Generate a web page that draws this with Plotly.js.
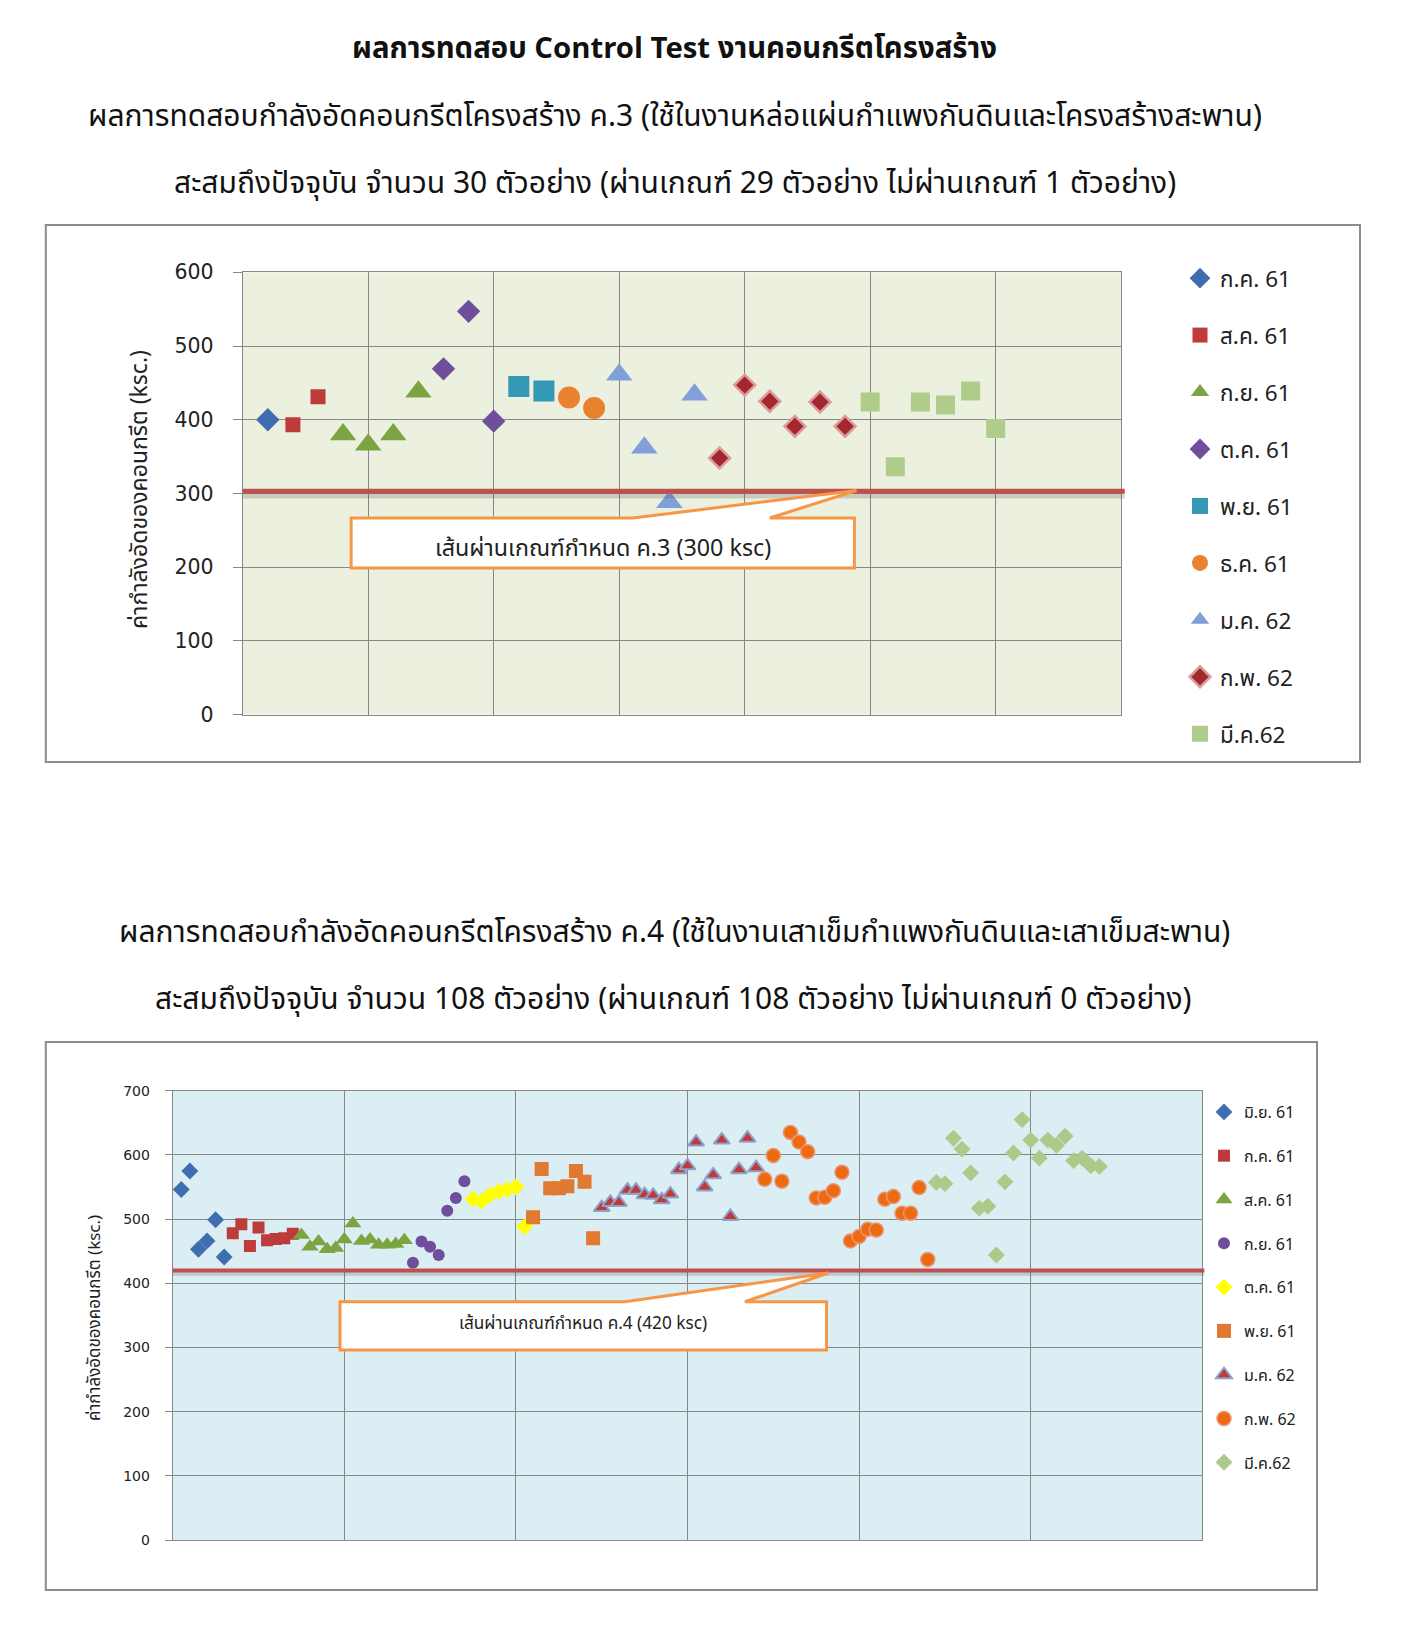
<!DOCTYPE html>
<html>
<head>
<meta charset="utf-8">
<script src="https://cdn.plot.ly/plotly-3.0.1.min.js"></script>
<style>
html,body{margin:0;padding:0;background:#fff;overflow:hidden;}
#chart{width:1407px;height:1637px;}
</style>
</head>
<body>
<div id="chart"></div>
<script>
// ---------- Chart 1 (ค.3) ----------
const topCats = ['ก.ค. 61','ส.ค. 61','ก.ย. 61','ต.ค. 61','พ.ย. 61','ธ.ค. 61','ม.ค. 62','ก.พ. 62','มี.ค.62'];
const top_jul61 = [400];
const top_aug61 = [393, 431];
const top_sep61 = [380, 366, 380, 438];
const top_oct61 = [469, 547, 398];
const top_nov61 = [445, 439];
const top_dec61 = [430, 416];
const top_jan62 = [461, 362, 288, 434];
const top_feb62 = [348, 447, 425, 391, 424, 391];
const top_mar62 = [424, 336, 424, 420, 439, 388];
const topThreshold = 300;
const topYTicks = [0, 100, 200, 300, 400, 500, 600];

// ---------- Chart 2 (ค.4) ----------
const botCats = ['มิ.ย. 61','ก.ค. 61','ส.ค. 61','ก.ย. 61','ต.ค. 61','พ.ย. 61','ม.ค. 62','ก.พ. 62','มี.ค.62'];
const bot_jun61 = [546, 575, 453, 466, 499, 441];
const bot_jul61 = [478, 492, 458, 487, 467, 469, 470, 477];
const bot_aug61 = [475, 457, 465, 453, 455, 468, 493, 466, 468, 460, 460, 461, 467];
const bot_sep61 = [432, 465, 457, 444, 513, 533, 559];
const bot_oct61 = [531, 528, 538, 543, 546, 550, 488];
const bot_nov61 = [503, 578, 548, 548, 551, 575, 558, 470];
const bot_jan62 = [518, 526, 526, 545, 545, 538, 537, 530, 539, 577, 583, 620, 550, 569, 623, 504, 577, 626, 580];
const bot_feb62 = [562, 599, 559, 635, 620, 605, 533, 534, 544, 573, 466, 473, 484, 483, 531, 535, 509, 509, 549, 437];
const bot_mar62 = [557, 555, 626, 609, 572, 517, 520, 444, 558, 603, 655, 623, 595, 623, 615, 629, 591, 595, 583, 582];
const botThreshold = 420;
const botYTicks = [0, 100, 200, 300, 400, 500, 600, 700];

const W = 1407, H = 1637;
const px = v => v / W;
const py = v => 1 - v / H;
const FONT = "Tahoma, 'Noto Sans Thai', 'Noto Sans', 'DejaVu Sans', sans-serif";

const topSeries = [top_jul61, top_aug61, top_sep61, top_oct61, top_nov61, top_dec61, top_jan62, top_feb62, top_mar62];
const topStyles = [
  {symbol:'diamond', size:18, color:'#3F6EB0', line:{width:0}},
  {symbol:'square', size:15, color:'#BE3B3B', line:{width:0}},
  {symbol:'triangle-up', size:23, color:'#7BA541', line:{width:0}},
  {symbol:'diamond', size:18, color:'#6F4E9C', line:{width:0}},
  {symbol:'square', size:21, color:'#3399B5', line:{width:0}},
  {symbol:'circle', size:22, color:'#E8822E', line:{width:0}},
  {symbol:'triangle-up', size:23, color:'#819FD8', line:{width:0}},
  {symbol:'diamond', size:16, color:'#A3282D', line:{color:'#DC9A9C', width:2.5}},
  {symbol:'square', size:19, color:'#AFCC8A', line:{width:0}}
];

const botSeries = [bot_jun61, bot_jul61, bot_aug61, bot_sep61, bot_oct61, bot_nov61, bot_jan62, bot_feb62, bot_mar62];
const botStyles = [
  {symbol:'diamond', size:13, color:'#3F6EB0', line:{width:0}},
  {symbol:'square', size:12, color:'#BE3B3B', line:{width:0}},
  {symbol:'triangle-up', size:15, color:'#7BA541', line:{width:0}},
  {symbol:'circle', size:12, color:'#6F4E9C', line:{width:0}},
  {symbol:'diamond', size:13, color:'#FFFF00', line:{width:0}},
  {symbol:'square', size:14, color:'#E07A30', line:{width:0}},
  {symbol:'triangle-up', size:14, color:'#C0393B', line:{color:'#8DA2C9', width:2}},
  {symbol:'circle', size:14, color:'#EE6A10', line:{color:'#E8967A', width:1.5}},
  {symbol:'diamond', size:13, color:'#AFC98A', line:{width:0}}
];

const traces = [];
let n = 0;
topSeries.forEach((vals, i) => {
  const xs = vals.map(() => ++n);
  traces.push({
    type:'scatter', mode:'markers', x: xs, y: vals, name: topCats[i],
    xaxis:'x', yaxis:'y', legend:'legend', legendgroup:'t'+i,
    marker: topStyles[i], hoverinfo:'skip'
  });
});
n = 0;
botSeries.forEach((vals, i) => {
  const xs = vals.map(() => ++n);
  traces.push({
    type:'scatter', mode:'markers', x: xs, y: vals, name: botCats[i],
    xaxis:'x2', yaxis:'y2', legend:'legend2', legendgroup:'b'+i,
    marker: botStyles[i], hoverinfo:'skip'
  });
});

const GRID = '#878787';
const axBase = {
  showgrid:true, gridcolor:GRID, gridwidth:1, zeroline:false,
  showline:true, linecolor:GRID, linewidth:1, mirror:true, fixedrange:true
};

const layout = {
  width:W, height:H, margin:{l:0,r:0,t:0,b:0},
  paper_bgcolor:'#ffffff', showlegend:true,
  font:{family:FONT, color:'#222'},
  xaxis: Object.assign({}, axBase, {domain:[px(242.7), px(1121.2)], range:[0,35], dtick:5, tick0:0, showticklabels:false, ticks:''}),
  yaxis: Object.assign({}, axBase, {domain:[py(714.5), py(272.3)], range:[0,600], tickvals:topYTicks, ticks:'outside', ticklen:9, tickcolor:GRID,
         ticklabelstandoff:15, tickfont:{family:"'DejaVu Sans', sans-serif", size:20.5, color:'#222'}}),
  xaxis2: Object.assign({}, axBase, {domain:[px(172.7), px(1202.3)], range:[0,120], dtick:20, tick0:0, showticklabels:false, ticks:'', anchor:'y2'}),
  yaxis2: Object.assign({}, axBase, {domain:[py(1540), py(1090.7)], range:[0,700], tickvals:botYTicks, ticks:'outside', ticklen:7, tickcolor:GRID, anchor:'x2',
         ticklabelstandoff:12, tickfont:{family:"'DejaVu Sans', sans-serif", size:14, color:'#222'}}),
  plot_bgcolor:'#EBF1DE',
  legend:{x:px(1180), y:py(257), xanchor:'left', yanchor:'top', traceorder:'grouped', tracegroupgap:24.7,
          font:{family:FONT, size:22.5, color:'#222'}, bgcolor:'rgba(0,0,0,0)', itemclick:false, itemdoubleclick:false},
  legend2:{x:px(1204), y:py(1095), xanchor:'left', yanchor:'top', traceorder:'grouped', tracegroupgap:20,
          font:{family:FONT, size:16, color:'#222'}, bgcolor:'rgba(0,0,0,0)', itemclick:false, itemdoubleclick:false},
  shapes:[
    // frames
    {type:'rect', xref:'paper', yref:'paper', x0:px(45.8), x1:px(1360), y0:py(762), y1:py(225), line:{color:'#8C8C8C', width:2}, fillcolor:'rgba(0,0,0,0)', layer:'below'},
    {type:'rect', xref:'paper', yref:'paper', x0:px(45.8), x1:px(1317), y0:py(1590), y1:py(1042), line:{color:'#8C8C8C', width:2}, fillcolor:'rgba(0,0,0,0)', layer:'below'},
    // bottom plot background
    {type:'rect', xref:'x2 domain', yref:'y2 domain', x0:0, x1:1, y0:0, y1:1, fillcolor:'#DAEEF3', line:{width:0}, layer:'below'},
    // threshold lines with shadow
    {type:'line', xref:'x domain', yref:'y', x0:0, x1:1.004, y0:topThreshold-3.5, y1:topThreshold-3.5, line:{color:'rgba(60,60,60,0.2)', width:5}},
    {type:'line', xref:'x domain', yref:'y', x0:0, x1:1.004, y0:topThreshold+3, y1:topThreshold+3, line:{color:'#C0504D', width:5}},
    {type:'line', xref:'x2 domain', yref:'y2', x0:0, x1:1.002, y0:botThreshold-5, y1:botThreshold-5, line:{color:'rgba(60,60,60,0.2)', width:4}},
    {type:'line', xref:'x2 domain', yref:'y2', x0:0, x1:1.002, y0:botThreshold, y1:botThreshold, line:{color:'#C0504D', width:4}},
    // callouts
    {type:'path', xref:'x', yref:'y',
     path:'M 4.32,266.6 L 15.55,266.6 L 24.45,304 L 21.0,266.6 L 24.37,266.6 L 24.37,198.8 L 4.32,198.8 Z',
     fillcolor:'#ffffff', line:{color:'#F79646', width:3}},
    {type:'path', xref:'x2', yref:'y2',
     path:'M 19.5,371.3 L 52.7,371.3 L 76.4,416 L 66.7,371.3 L 76.2,371.3 L 76.2,296 L 19.5,296 Z',
     fillcolor:'#ffffff', line:{color:'#F79646', width:3}}
  ],
  annotations:[
    {xref:'paper', yref:'paper', x:px(674), y:py(49), text:'<b>ผลการทดสอบ Control Test งานคอนกรีตโครงสร้าง</b>', showarrow:false, font:{family:FONT, size:29.3, color:'#111'}, xanchor:'center', yanchor:'middle'},
    {xref:'paper', yref:'paper', x:px(675), y:py(117), text:'ผลการทดสอบกำลังอัดคอนกรีตโครงสร้าง ค.3 (ใช้ในงานหล่อแผ่นกำแพงกันดินและโครงสร้างสะพาน)', showarrow:false, font:{family:FONT, size:30, color:'#111'}, xanchor:'center', yanchor:'middle'},
    {xref:'paper', yref:'paper', x:px(674.5), y:py(184), text:'สะสมถึงปัจจุบัน จำนวน 30 ตัวอย่าง (ผ่านเกณฑ์ 29 ตัวอย่าง ไม่ผ่านเกณฑ์ 1 ตัวอย่าง)', showarrow:false, font:{family:FONT, size:30, color:'#111'}, xanchor:'center', yanchor:'middle'},
    {xref:'paper', yref:'paper', x:px(674.5), y:py(933), text:'ผลการทดสอบกำลังอัดคอนกรีตโครงสร้าง ค.4 (ใช้ในงานเสาเข็มกำแพงกันดินและเสาเข็มสะพาน)', showarrow:false, font:{family:FONT, size:30, color:'#111'}, xanchor:'center', yanchor:'middle'},
    {xref:'paper', yref:'paper', x:px(673.5), y:py(1000), text:'สะสมถึงปัจจุบัน จำนวน 108 ตัวอย่าง (ผ่านเกณฑ์ 108 ตัวอย่าง ไม่ผ่านเกณฑ์ 0 ตัวอย่าง)', showarrow:false, font:{family:FONT, size:30, color:'#111'}, xanchor:'center', yanchor:'middle'},
    {xref:'paper', yref:'paper', x:px(140), y:py(490), text:'ค่ากำลังอัดของคอนกรีต (ksc.)', textangle:-90, showarrow:false, font:{family:FONT, size:23, color:'#222'}, xanchor:'center', yanchor:'middle'},
    {xref:'paper', yref:'paper', x:px(95), y:py(1318), text:'ค่ากำลังอัดของคอนกรีต (ksc.)', textangle:-90, showarrow:false, font:{family:FONT, size:17, color:'#222'}, xanchor:'center', yanchor:'middle'},
    {xref:'x', yref:'y', x:14.35, y:225, text:'เส้นผ่านเกณฑ์กำหนด ค.3 (300 ksc)', showarrow:false, font:{family:FONT, size:23.3, color:'#222'}, xanchor:'center', yanchor:'middle'},
    {xref:'x2', yref:'y2', x:47.8, y:337, text:'เส้นผ่านเกณฑ์กำหนด ค.4 (420 ksc)', showarrow:false, font:{family:FONT, size:17.2, color:'#222'}, xanchor:'center', yanchor:'middle'}
  ]
};

Plotly.newPlot('chart', traces, layout, {displayModeBar:false, staticPlot:true});
</script>
</body>
</html>
